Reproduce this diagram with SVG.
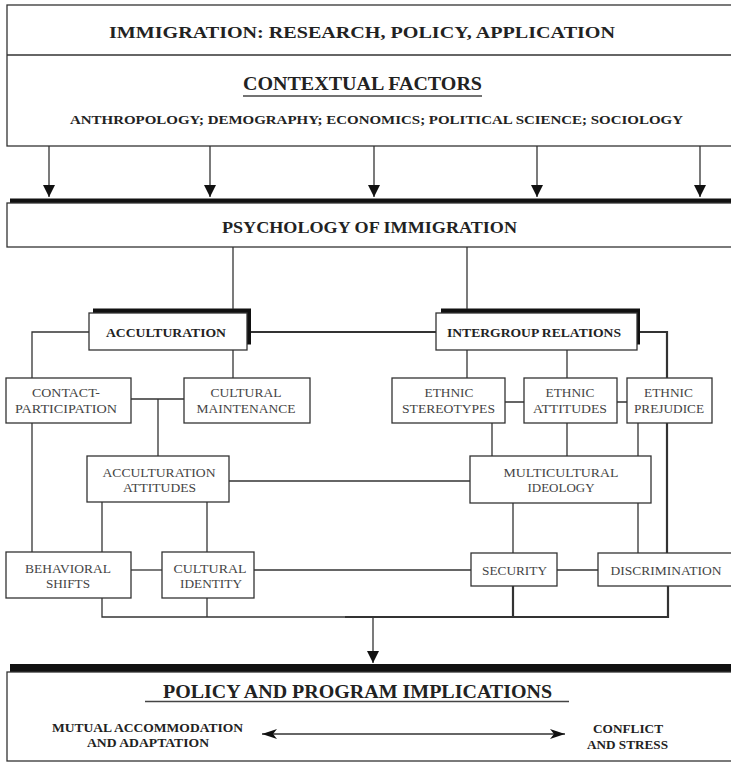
<svg xmlns="http://www.w3.org/2000/svg" width="731" height="764" viewBox="0 0 731 764">
<style>
.box{fill:#fff;stroke:#333;stroke-width:1.3}
.shadow{fill:#111}
.nt{font-family:"Liberation Serif","Times New Roman",serif;font-size:13px;fill:#444;text-anchor:middle}
.hd{font-family:"Liberation Serif","Times New Roman",serif;font-weight:bold;fill:#222;text-anchor:middle}
.conn{stroke:#333;stroke-width:1.3;fill:none}
.thick{stroke-width:2.2}
</style>
<defs>
<marker id="tri" markerUnits="userSpaceOnUse" markerWidth="12" markerHeight="14" refX="12" refY="6" orient="auto">
<path d="M0,0 L12,6 L0,12 z" fill="#111"/>
</marker>
<marker id="barb" markerUnits="userSpaceOnUse" markerWidth="16" markerHeight="12" refX="15" refY="6" orient="auto-start-reverse">
<path d="M0,1 L15,6 L0,11 L4,6 z" fill="#111"/>
</marker>
</defs>
<rect width="731" height="764" fill="#fff"/>

<g id="header">
<rect class="box" x="7" y="5" width="740" height="141"/>
<line x1="7" y1="55" x2="740" y2="55" stroke="#333" stroke-width="1.3"/>
<text class="hd" x="362" y="38" font-size="17" textLength="506" lengthAdjust="spacingAndGlyphs">IMMIGRATION: RESEARCH, POLICY, APPLICATION</text>
</g>

<g id="contextual">
<text class="hd" x="362.5" y="90" font-size="19.5" textLength="239" lengthAdjust="spacingAndGlyphs">CONTEXTUAL FACTORS</text>
<line x1="243" y1="96" x2="482" y2="96" stroke="#444" stroke-width="1.5"/>
<text class="hd" x="376.5" y="124" font-size="13.5" textLength="613" lengthAdjust="spacingAndGlyphs">ANTHROPOLOGY; DEMOGRAPHY; ECONOMICS; POLITICAL SCIENCE; SOCIOLOGY</text>
</g>

<g id="psychology">
<rect class="shadow" x="10" y="198.5" width="730" height="5"/>
<rect class="box" x="7" y="203" width="740" height="44"/>
<text class="hd" x="369.5" y="233" font-size="17" textLength="295" lengthAdjust="spacingAndGlyphs">PSYCHOLOGY OF IMMIGRATION</text>
</g>

<g id="acculturation">
<rect class="shadow" x="93" y="308.5" width="158" height="36"/>
<rect class="box" x="89" y="313" width="158" height="37"/>
<text class="hd" x="166" y="337" font-size="13" textLength="120" lengthAdjust="spacingAndGlyphs">ACCULTURATION</text>
</g>

<g id="intergroup">
<rect class="shadow" x="441" y="308.5" width="199" height="36"/>
<rect class="box" x="436" y="313" width="201" height="37"/>
<text class="hd" x="534" y="337" font-size="13" textLength="174" lengthAdjust="spacingAndGlyphs">INTERGROUP RELATIONS</text>
</g>

<g id="contact-participation">
<rect class="box" x="6" y="378" width="125" height="45"/>
<text class="nt" x="66" y="397" textLength="68" lengthAdjust="spacingAndGlyphs">CONTACT-</text>
<text class="nt" x="66" y="413" textLength="102" lengthAdjust="spacingAndGlyphs">PARTICIPATION</text>
</g>

<g id="cultural-maintenance">
<rect class="box" x="184" y="378" width="126" height="45"/>
<text class="nt" x="246" y="397" textLength="71" lengthAdjust="spacingAndGlyphs">CULTURAL</text>
<text class="nt" x="246" y="413" textLength="99" lengthAdjust="spacingAndGlyphs">MAINTENANCE</text>
</g>

<g id="acculturation-attitudes">
<rect class="box" x="87" y="456" width="142" height="46"/>
<text class="nt" x="159" y="477" textLength="113" lengthAdjust="spacingAndGlyphs">ACCULTURATION</text>
<text class="nt" x="159.5" y="492" textLength="73" lengthAdjust="spacingAndGlyphs">ATTITUDES</text>
</g>

<g id="behavioral-shifts">
<rect class="box" x="6" y="552" width="125" height="46"/>
<text class="nt" x="68" y="573" textLength="86" lengthAdjust="spacingAndGlyphs">BEHAVIORAL</text>
<text class="nt" x="68" y="588" textLength="44" lengthAdjust="spacingAndGlyphs">SHIFTS</text>
</g>

<g id="cultural-identity">
<rect class="box" x="162" y="552" width="92" height="46"/>
<text class="nt" x="210" y="573" textLength="73" lengthAdjust="spacingAndGlyphs">CULTURAL</text>
<text class="nt" x="211" y="588" textLength="62" lengthAdjust="spacingAndGlyphs">IDENTITY</text>
</g>

<g id="ethnic-stereotypes">
<rect class="box" x="392" y="378" width="113" height="45"/>
<text class="nt" x="449" y="397" textLength="49" lengthAdjust="spacingAndGlyphs">ETHNIC</text>
<text class="nt" x="448.5" y="413" textLength="93" lengthAdjust="spacingAndGlyphs">STEREOTYPES</text>
</g>

<g id="ethnic-attitudes">
<rect class="box" x="524" y="378" width="93" height="45"/>
<text class="nt" x="570" y="397" textLength="49" lengthAdjust="spacingAndGlyphs">ETHNIC</text>
<text class="nt" x="570" y="413" textLength="74" lengthAdjust="spacingAndGlyphs">ATTITUDES</text>
</g>

<g id="ethnic-prejudice">
<rect class="box" x="627" y="378" width="85" height="45"/>
<text class="nt" x="668.5" y="397" textLength="49" lengthAdjust="spacingAndGlyphs">ETHNIC</text>
<text class="nt" x="669" y="413" textLength="70" lengthAdjust="spacingAndGlyphs">PREJUDICE</text>
</g>

<g id="multicultural-ideology">
<rect class="box" x="470" y="456" width="181" height="47"/>
<text class="nt" x="561" y="477" textLength="115" lengthAdjust="spacingAndGlyphs">MULTICULTURAL</text>
<text class="nt" x="561" y="492" textLength="67" lengthAdjust="spacingAndGlyphs">IDEOLOGY</text>
</g>

<g id="security">
<rect class="box" x="471" y="553" width="86" height="33"/>
<text class="nt" x="514.5" y="575" textLength="65" lengthAdjust="spacingAndGlyphs">SECURITY</text>
</g>

<g id="discrimination">
<rect class="box" x="598" y="553" width="140" height="33"/>
<text class="nt" x="666" y="575" textLength="111" lengthAdjust="spacingAndGlyphs">DISCRIMINATION</text>
</g>

<g id="policy">
<rect class="shadow" x="10" y="664" width="730" height="9"/>
<rect class="box" x="7" y="672" width="740" height="89"/>
<text class="hd" x="357.5" y="698" font-size="19.5" textLength="389" lengthAdjust="spacingAndGlyphs">POLICY AND PROGRAM IMPLICATIONS</text>
<line x1="145" y1="701.5" x2="569" y2="701.5" stroke="#444" stroke-width="1.5"/>
<text class="hd" x="147.5" y="732" font-size="12" textLength="191" lengthAdjust="spacingAndGlyphs">MUTUAL ACCOMMODATION</text>
<text class="hd" x="148" y="747" font-size="12" textLength="122" lengthAdjust="spacingAndGlyphs">AND ADAPTATION</text>
<text class="hd" x="628" y="733" font-size="12" textLength="70" lengthAdjust="spacingAndGlyphs">CONFLICT</text>
<text class="hd" x="627.5" y="749" font-size="12" textLength="81" lengthAdjust="spacingAndGlyphs">AND STRESS</text>
</g>

<g id="connectors">
<path class="conn" d="M49,146 V197" marker-end="url(#tri)"/>
<path class="conn" d="M210,146 V197" marker-end="url(#tri)"/>
<path class="conn" d="M374,146 V197" marker-end="url(#tri)"/>
<path class="conn" d="M537,146 V197" marker-end="url(#tri)"/>
<path class="conn" d="M700,146 V197" marker-end="url(#tri)"/>
<path class="conn" d="M233,247 V309"/>
<path class="conn" d="M467,247 V309"/>
<path class="conn thick" d="M251,332 H436"/>
<path class="conn" d="M89,332 H32 V378"/>
<path class="conn" d="M233,350 V378"/>
<path class="conn" d="M131,399 H184 M158,399 V456"/>
<path class="conn" d="M229,481 H470"/>
<path class="conn" d="M32,423 V552"/>
<path class="conn" d="M102,502 V552"/>
<path class="conn" d="M207,502 V552"/>
<path class="conn" d="M131,570 H162"/>
<path class="conn" d="M254,570 H471"/>
<path class="conn" d="M467,350 V378"/>
<path class="conn" d="M567,350 V378"/>
<path class="conn thick" d="M640,332 H667 V378"/>
<path class="conn" d="M505,402 H524 M617,402 H627"/>
<path class="conn" d="M492,423 V456 M567,423 V456 M638,423 V456"/>
<path class="conn" d="M513,503 V553 M638,503 V553"/>
<path class="conn thick" d="M667,423 V553"/>
<path class="conn" d="M557,570 H598"/>
<path class="conn" d="M102,598 V617 H345 M207,598 V617"/>
<path class="conn thick" d="M345,617 H668 V586 M513,586 V617"/>
<path class="conn" d="M373,617 V663" marker-end="url(#tri)"/>
<path class="conn" d="M262,734 H565" marker-start="url(#barb)" marker-end="url(#barb)"/>
</g>
</svg>
